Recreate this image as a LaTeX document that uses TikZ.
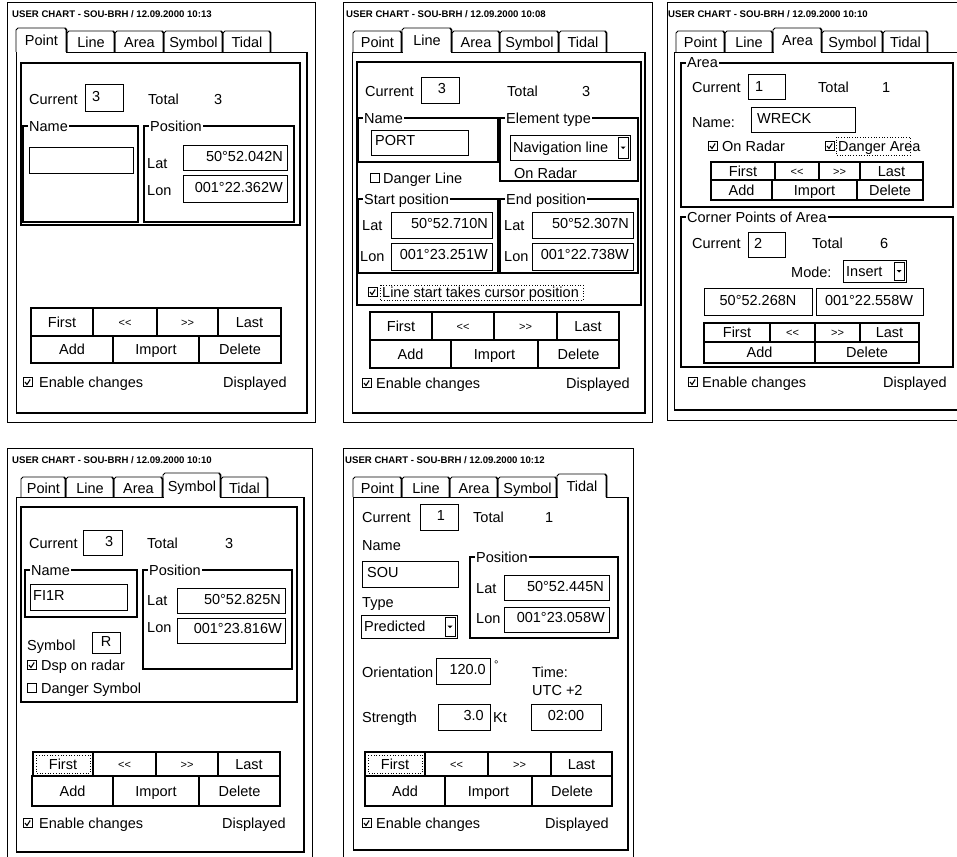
\documentclass[tikz,border=0pt]{standalone}
\usepackage{fontspec}
\setmainfont{Liberation Sans}
\tikzset{
 txt/.style={font=\fontsize{14.5}{16}\selectfont, inner sep=0pt},
 sm/.style={font=\fontsize{11}{13}\selectfont, inner sep=0pt},
 ttl/.style={font=\fontsize{9.6}{11}\selectfont\bfseries, inner sep=0pt},
 outerframe/.style={draw, line width=0.8pt},
 tb/.style={draw, line width=1pt},
 btnbox/.style={draw, line width=1.2pt},
 defbtn/.style={draw, line width=2.2pt},
 grp/.style={draw, line width=1.3pt},
 focus/.style={draw, dotted, line width=0.7pt},
}
\newcommand\uT[3]{\node[txt,anchor=base west] at ({#1},{#2+5}) {#3};}
\newcommand\uTR[3]{\node[txt,anchor=base east] at ({#1},{#2+5}) {#3};}
\newcommand\uTC[3]{\node[txt,anchor=base] at ({#1},{#2+5}) {#3};}
\newcommand\uBox[4]{\draw[tb] (#1,#2) rectangle (#3,#4);}
\newcommand\uBtn[5]{\draw[btnbox] (#1,#2) rectangle (#3,#4); \node[txt,anchor=base] at ({(#1+#3)/2},{(#2+#4)/2+5}) {#5};}
\newcommand\uBtnS[5]{\draw[btnbox] (#1,#2) rectangle (#3,#4); \node[sm,anchor=base] at ({(#1+#3)/2},{(#2+#4)/2+4}) {#5};}
\newcommand\uChk[2]{\draw[line width=0.9pt] ({#1},{#2-4.5}) rectangle ++(9,9); \draw[line width=1.1pt] ({#1+2},{#2}) -- ({#1+4},{#2+2.5}) -- ({#1+7.2},{#2-2.5});}
\newcommand\uUnchk[2]{\draw[line width=0.9pt] ({#1},{#2-4.5}) rectangle ++(9,9);}
\newcommand\uCombo[5]{\draw[tb] (#1,#2) rectangle (#3,#4); \draw[line width=0.8pt] ({#3-12},{#2+2}) rectangle ({#3-2},{#4-2}); \fill ({#3-9.5},{(#2+#4)/2-1}) -- ({#3-4.5},{(#2+#4)/2-1}) -- ({#3-7},{(#2+#4)/2+1.5}) -- cycle; \uT{#1+3}{(#2+#4)/2}{#5}}
\newcommand\uGrp[5]{\draw[grp] (#1,#2) rectangle (#3,#4); \node[txt,anchor=base west,fill=white,inner xsep=1pt] at ({#1+5},{#2+5}) {#5};}
\newcommand\uPage[4]{\draw[line width=0.9pt] (#1,#4) -- (#1,#2) -- (#3,#2); \draw[line width=1.6pt] (#3,#2) -- (#3,#4) -- (#1,#4);}
\newcommand\uTab[5]{\draw[line width=0.9pt] (#1,#4) -- (#1,{#3+2}) -- ({#1+2},#3) -- ({#2-2},#3); \draw[line width=1.6pt] ({#2-2},#3) -- ({#2-0.5},{#3+2}) -- ({#2-0.5},#4); \node[txt,anchor=base] at ({(#1+#2)/2},{(#3+#4)/2+6}) {#5};}
\newcommand\uATab[5]{\fill[white] ({#1+0.6},#3) rectangle ({#2-1.5},{#4+1}); \uTab{#1}{#2}{#3}{#4}{#5}}
\newcommand\uTitle[3]{\node[ttl,anchor=base west] at ({#1},{#2}) {#3};}
\begin{document}
\begin{tikzpicture}[x=1pt,y=-1pt]
\useasboundingbox[fill=white] (0,0) rectangle (957,856);
% ================= Panel 1: Point
\draw[outerframe] (7,2) rectangle (315,422);
\uTitle{12}{18}{USER CHART - SOU-BRH / 12.09.2000 10:13}
\uPage{16}{52}{307}{413}
\uTab{67}{115}{31}{52}{Line}\uTab{115}{164}{31}{52}{Area}\uTab{164}{223}{31}{52}{Symbol}\uTab{223}{271}{31}{52}{Tidal}
\uATab{16}{67}{28}{52}{Point}
\draw[grp] (21,63) rectangle (300,225);
\uT{29}{99}{Current}\uBox{85}{85}{123}{112}\uT{92}{97}{3}
\uT{148}{99}{Total}\uT{214}{99}{3}
\uGrp{23}{126}{138}{222}{Name}\uBox{29}{147}{133}{173}
\uGrp{144}{126}{294}{222}{Position}
\uT{147}{163}{Lat}\uBox{183}{145}{287}{170}\uTR{283}{156}{50°52.042N}
\uT{147}{190}{Lon}\uBox{183}{175}{287}{202}\uTR{283}{187}{001°22.362W}
\uBtn{31}{308}{93}{336}{First}\draw[defbtn] (31,308) rectangle (93,336);
\uBtnS{93}{308}{157}{336}{<\kern0pt<}\uBtnS{157}{308}{218}{336}{>\kern0pt>}\uBtn{218}{308}{281}{336}{Last}
\uBtn{31}{336}{113}{363}{Add}\uBtn{113}{336}{199}{363}{Import}\uBtn{199}{336}{281}{363}{Delete}
\uChk{23}{382}\uT{39}{382}{Enable changes}\uTR{287}{382}{Displayed}
% ================= Panel 2: Line
\draw[outerframe] (343,2) rectangle (652,422);
\uTitle{346}{18}{USER CHART - SOU-BRH / 12.09.2000 10:08}
\uPage{352}{52}{645}{413}
\uTab{353}{402}{31}{52}{Point}\uTab{452}{500}{31}{52}{Area}\uTab{500}{559}{31}{52}{Symbol}\uTab{559}{607}{31}{52}{Tidal}
\uATab{402}{452}{28}{52}{Line}
\draw[grp] (357,62) rectangle (641,305);
\uT{365}{91}{Current}\uBox{421}{78}{459}{104}\uTC{442}{89}{3}
\uT{507}{91}{Total}\uT{582}{91}{3}
\uGrp{358}{118}{498}{162}{Name}\uBox{371}{130}{468}{155}\uT{375}{140}{PORT}
\uGrp{500}{118}{638}{181}{Element type}\uCombo{510}{135}{630}{160}{Navigation line}\uT{514}{173}{On Radar}
\uUnchk{370}{178}\uT{383}{178}{Danger Line}
\uGrp{358}{199}{498}{273}{Start position}\uGrp{500}{199}{638}{273}{End position}
\uT{362}{225}{Lat}\uBox{391}{212}{492}{238}\uTR{488}{223}{50°52.710N}
\uT{360}{256}{Lon}\uBox{391}{243}{492}{270}\uTR{488}{254}{001°23.251W}
\uT{504}{225}{Lat}\uBox{532}{212}{633}{238}\uTR{629}{223}{50°52.307N}
\uT{504}{256}{Lon}\uBox{532}{243}{633}{270}\uTR{629}{254}{001°22.738W}
\uChk{368}{292}\uT{382}{292}{Line start takes cursor position}\draw[focus] (380,285) rectangle (583,300);
\uBtn{370}{312}{432}{340}{First}\draw[defbtn] (370,312) rectangle (432,340);
\uBtnS{432}{312}{494}{340}{<\kern0pt<}\uBtnS{494}{312}{557}{340}{>\kern0pt>}\uBtn{557}{312}{619}{340}{Last}
\uBtn{370}{340}{451}{368}{Add}\uBtn{451}{340}{538}{368}{Import}\uBtn{538}{340}{619}{368}{Delete}
\uChk{362}{383}\uT{376}{383}{Enable changes}\uTR{630}{383}{Displayed}
% ================= Panel 3: Area
\draw[outerframe] (667,2) rectangle (975,420);
\uTitle{668}{18}{USER CHART - SOU-BRH / 12.09.2000 10:10}
\uPage{674}{52}{970}{410}
\uTab{676}{725}{31}{52}{Point}\uTab{725}{773}{31}{52}{Line}\uTab{822}{883}{31}{52}{Symbol}\uTab{883}{928}{31}{52}{Tidal}
\uATab{773}{822}{28}{52}{Area}
\uGrp{681}{63}{953}{207}{Area}
\uT{692}{88}{Current}\uBox{748}{75}{785}{100}\uT{755}{87}{1}
\uT{818}{88}{Total}\uT{882}{88}{1}
\uT{692}{123}{Name:}\uBox{751}{108}{855}{132}\uT{757}{118}{WRECK}
\uChk{708}{146}\uT{722}{146}{On Radar}\uChk{825}{146}\uT{838}{146}{Danger Area}\draw[focus] (836,137) rectangle (910,155);
\uBtn{711}{162}{775}{180}{First}\uBtnS{775}{162}{819}{180}{<\kern0pt<}\uBtnS{819}{162}{860}{180}{>\kern0pt>}\uBtn{860}{162}{923}{180}{Last}
\uBtn{711}{180}{772}{200}{Add}\uBtn{772}{180}{857}{200}{Import}\uBtn{857}{180}{923}{200}{Delete}
\uGrp{681}{217}{953}{367}{Corner Points of Area}
\uT{692}{243}{Current}\uBox{748}{232}{785}{257}\uT{754}{243}{2}
\uT{812}{243}{Total}\uT{880}{243}{6}
\uT{791}{272}{Mode:}\uCombo{843}{260}{906}{282}{Insert}
\uBox{704}{288}{812}{315}\uTC{758}{300}{50°52.268N}
\uBox{816}{288}{923}{315}\uTC{869}{300}{001°22.558W}
\uBtn{704}{323}{770}{342}{First}\draw[defbtn] (704,323) rectangle (770,342);
\uBtnS{770}{323}{815}{342}{<\kern0pt<}\uBtnS{815}{323}{860}{342}{>\kern0pt>}\uBtn{860}{323}{919}{342}{Last}
\uBtn{704}{342}{815}{363}{Add}\uBtn{815}{342}{919}{363}{Delete}
\uChk{688}{382}\uT{702}{382}{Enable changes}\uTR{947}{382}{Displayed}
% ================= Panel 4: Symbol
\draw[outerframe] (7,448) rectangle (312,870);
\uTitle{12}{463}{USER CHART - SOU-BRH / 12.09.2000 10:10}
\uPage{16}{497}{304}{852}
\uTab{21}{66}{477}{497}{Point}\uTab{66}{114}{477}{497}{Line}\uTab{114}{163}{477}{497}{Area}\uTab{221}{268}{477}{497}{Tidal}
\uATab{163}{221}{473}{497}{Symbol}
\draw[grp] (21,507) rectangle (297,702);
\uT{29}{543}{Current}\uBox{83}{530}{122}{555}\uT{105}{541}{3}
\uT{147}{543}{Total}\uT{225}{543}{3}
\uGrp{25}{570}{137}{617}{Name}\uBox{30}{584}{127}{610}\uT{33}{595}{FI1R}
\uGrp{143}{570}{292}{669}{Position}
\uT{147}{600}{Lat}\uBox{177}{588}{285}{613}\uTR{281}{599}{50°52.825N}
\uT{147}{627}{Lon}\uBox{177}{618}{285}{643}\uTR{282}{628}{001°23.816W}
\uT{27}{645}{Symbol}\uBox{92}{632}{120}{653}\uTC{106}{641}{R}
\uChk{27}{665}\uT{41}{665}{Dsp on radar}
\uUnchk{27}{688}\uT{41}{688}{Danger Symbol}
\uBtn{33}{752}{93}{776}{First}\draw[focus] (36,755) rectangle (90,773);
\uBtnS{93}{752}{156}{776}{<\kern0pt<}\uBtnS{156}{752}{218}{776}{>\kern0pt>}\uBtn{218}{752}{280}{776}{Last}
\uBtn{32}{776}{113}{806}{Add}\uBtn{113}{776}{199}{806}{Import}\uBtn{199}{776}{280}{806}{Delete}
\uChk{23}{823}\uT{39}{823}{Enable changes}\uTR{286}{823}{Displayed}
% ================= Panel 5: Tidal
\draw[outerframe] (343,448) rectangle (633,870);
\uTitle{345}{463}{USER CHART - SOU-BRH / 12.09.2000 10:12}
\uPage{353}{497}{628}{850}
\uTab{353}{402}{477}{497}{Point}\uTab{402}{450}{477}{497}{Line}\uTab{450}{498}{477}{497}{Area}\uTab{498}{557}{477}{497}{Symbol}
\uATab{557}{607}{474}{497}{Tidal}
\uT{362}{517}{Current}\uBox{420}{504}{458}{530}\uTC{441}{515}{1}
\uT{473}{517}{Total}\uT{545}{517}{1}
\uT{362}{545}{Name}
\uBox{362}{561}{458}{587}\uT{367}{572}{SOU}
\uT{362}{602}{Type}
\uCombo{361}{615}{457}{638}{Predicted}
\uGrp{470}{557}{618}{638}{Position}
\uT{476}{588}{Lat}\uBox{504}{575}{609}{600}\uTR{604}{586}{50°52.445N}
\uT{476}{618}{Lon}\uBox{504}{607}{609}{632}\uTR{605}{617}{001°23.058W}
\uT{362}{672}{Orientation}\uBox{436}{658}{490}{684}\uTR{486}{669}{120.0}\node[sm,anchor=base west] at (494,668) {°};
\uT{532}{672}{Time:}\uT{532}{690}{UTC +2}
\uT{362}{717}{Strength}\uBox{438}{704}{490}{730}\uTR{484}{715}{3.0}\uT{493}{717}{Kt}
\uBox{531}{704}{601}{730}\uTC{566}{715}{02:00}
\uBtn{365}{752}{425}{776}{First}\draw[focus] (368,755) rectangle (422,773);
\uBtnS{425}{752}{488}{776}{<\kern0pt<}\uBtnS{488}{752}{551}{776}{>\kern0pt>}\uBtn{551}{752}{612}{776}{Last}
\uBtn{365}{776}{445}{806}{Add}\uBtn{445}{776}{532}{806}{Import}\uBtn{532}{776}{612}{806}{Delete}
\uChk{362}{823}\uT{376}{823}{Enable changes}\uTR{609}{823}{Displayed}
\end{tikzpicture}
\end{document}
